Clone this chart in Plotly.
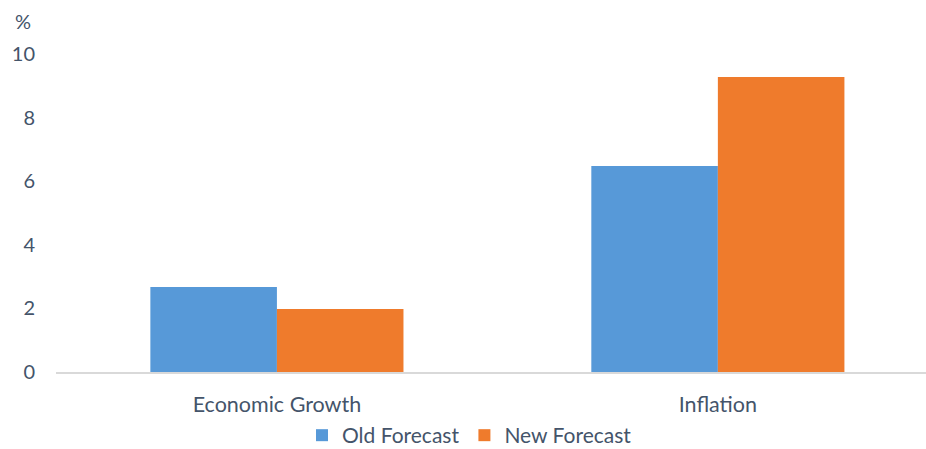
import plotly.graph_objects as go

categories = ["Economic Growth", "Inflation"]
old_forecast = [2.67, 6.48]
new_forecast = [1.98, 9.28]
y_ticks = [0, 2, 4, 6, 8, 10]

font_family = "Lato, Open Sans, sans-serif"
text_color = "#44546A"

fig = go.Figure()
fig.add_trace(go.Bar(name="Old Forecast", x=[0, 1], y=old_forecast,
                     marker=dict(color="#5799D8", line=dict(width=0))))
fig.add_trace(go.Bar(name="New Forecast", x=[0, 1], y=new_forecast,
                     marker=dict(color="#EF7B2C", line=dict(width=0))))

fig.update_layout(
    width=926, height=449,
    margin=dict(l=56, r=0, t=54, b=77, autoexpand=False),
    paper_bgcolor="white", plot_bgcolor="white",
    barmode="group", bargap=0.426, bargroupgap=0,
    font=dict(family=font_family, color=text_color, size=20),
    showlegend=True,
    legend=dict(orientation="h", x=0.507, xanchor="center", xref="container",
                y=0.03, yanchor="middle", yref="container",
                bgcolor="rgba(0,0,0,0)",
                font=dict(size=21), itemwidth=30, traceorder="normal"),
    xaxis=dict(range=[-0.501, 1.472], tickvals=[0, 1], ticktext=categories,
               showgrid=False, showline=True, linecolor="#D9D9D9", linewidth=2,
               ticks="", zeroline=False, tickfont=dict(size=21.5),
               ticklabelstandoff=12),
    yaxis=dict(range=[0, 10], tickvals=y_ticks, showgrid=False, zeroline=False,
               showline=False, ticks="", ticklabelstandoff=20, tickfont=dict(size=20)),
    annotations=[dict(text="%", xref="paper", yref="paper", x=-0.038, y=1.105,
                      xanchor="center", yanchor="middle", showarrow=False,
                      font=dict(size=20, color=text_color))],
)

fig.write_html("out.html")
